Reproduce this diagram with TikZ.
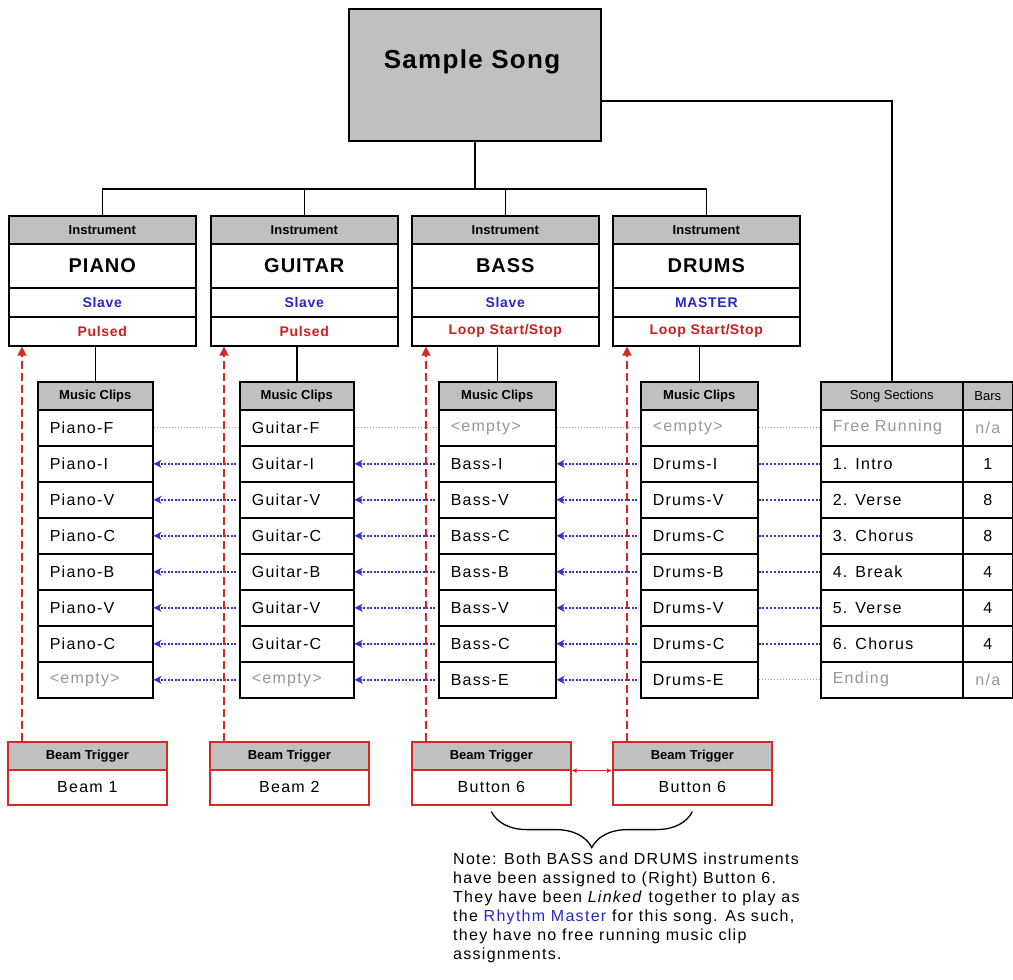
\documentclass[tikz,border=0pt]{standalone}
\usepackage{fontspec}
\setmainfont{Liberation Sans}
\newfontfamily\cellf[LetterSpace=8]{Liberation Sans}
\newfontfamily\notef[LetterSpace=8]{Liberation Sans}
\newfontfamily\boldsp[LetterSpace=5]{Liberation Sans}
\usetikzlibrary{arrows.meta,decorations.pathreplacing}
\definecolor{hdr}{RGB}{192,192,192}
\definecolor{bluet}{RGB}{40,40,200}
\definecolor{redt}{RGB}{205,30,30}
\definecolor{greyt}{RGB}{150,150,150}
\definecolor{linkblue}{RGB}{50,50,215}
\definecolor{trigred}{RGB}{215,40,40}
\begin{document}
\begin{tikzpicture}[x=1pt,y=-1pt,
  box/.style={draw, line width=1.6pt, inner sep=0pt, anchor=north west},
  hdrcell/.style={box, fill=hdr, minimum height=28, font=\fontsize{13}{15}\selectfont\bfseries},
  hdrreg/.style={box, fill=hdr, minimum height=28, font=\fontsize{13}{15}\selectfont},
  cell/.style={box, minimum height=36, inner xsep=12, text width=#1, align=left, font=\cellf\fontsize{16}{18}\selectfont},
  ccell/.style={box, minimum height=36, inner xsep=12, text width=#1, align=center, font=\cellf\fontsize{16}{18}\selectfont},
  conn/.style={line width=1.5pt, black},
  greydot/.style={draw=greyt, line width=1.1pt, dash pattern=on 1.5pt off 1.5pt},
  bluearr/.style={draw=linkblue, line width=1.6pt, dash pattern=on 2pt off 1.5pt, -{Stealth[length=8,width=8,fill=linkblue]}, shorten <=3pt},
  bluedot/.style={draw=linkblue, line width=2.2pt, dash pattern=on 2pt off 1.8pt},
  redarrow/.style={draw=trigred, line width=1.5pt, dash pattern=on 8pt off 4pt, -{Triangle[length=9,width=9,fill=trigred]}},
  trighdr/.style={box, draw=trigred, fill=hdr, minimum height=28, font=\fontsize{13}{15}\selectfont\bfseries},
  trigbody/.style={box, draw=trigred, minimum height=35, font=\cellf\fontsize{16}{18}\selectfont}
]
\useasboundingbox (0,0) rectangle (1013,980);

% Song
\node[box, fill=hdr, minimum width=252, minimum height=132] (song) at (348,8) {};
\node[font=\boldsp\fontsize{26}{28}\selectfont\bfseries] (songtxt) at (472,62) {Sample Song};

% Instruments
\foreach \x/\nm/\md/\mc/\tr [count=\i] in {8/PIANO/Slave/bluet/Pulsed, 210/GUITAR/Slave/bluet/Pulsed, 411/BASS/Slave/bluet/Loop Start\slash Stop, 612/DRUMS/MASTER/bluet/Loop Start\slash Stop} {
  \node[hdrcell, minimum width=187] (ih\i) at (\x,215) {Instrument};
  \node[box, minimum width=187, minimum height=44, font=\boldsp\fontsize{20}{22}\selectfont\bfseries] (in\i) at (\x,243) {\nm};
  \node[box, minimum width=187, minimum height=29, text=\mc, font=\boldsp\fontsize{14}{16}\selectfont\bfseries] (im\i) at (\x,287) {\md};
  \node[box, minimum width=187, minimum height=29, text=redt, font=\boldsp\fontsize{14}{16}\selectfont\bfseries] (it\i) at (\x,316) {\tr};
}

% Bus
\coordinate (bus) at (0,189);
\draw[conn] (ih1.north) |- (bus -| ih4.north) -- (ih4.north);
\draw[conn] (ih2.north) -- (ih2.north |- bus);
\draw[conn] (ih3.north) -- (ih3.north |- bus);
\draw[conn] (song.south) -- (song.south |- bus);

% Clip tables
\node[hdrcell, minimum width=115] (p0) at (37,381) {Music Clips};
\foreach \t [count=\i] in {Piano-F,Piano-I,Piano-V,Piano-C,Piano-B,Piano-V,Piano-C,{\color{greyt}\textless empty\textgreater}}
  \node[cell=91] (p\i) at (37,{409+36*(\i-1)}) {\t};
\node[hdrcell, minimum width=114] (g0) at (239,381) {Music Clips};
\foreach \t [count=\i] in {Guitar-F,Guitar-I,Guitar-V,Guitar-C,Guitar-B,Guitar-V,Guitar-C,{\color{greyt}\textless empty\textgreater}}
  \node[cell=90] (g\i) at (239,{409+36*(\i-1)}) {\t};
\node[hdrcell, minimum width=117] (b0) at (438,381) {Music Clips};
\foreach \t [count=\i] in {{\centering\color{greyt}\textless empty\textgreater},Bass-I,Bass-V,Bass-C,Bass-B,Bass-V,Bass-C,Bass-E}
  \node[cell=93] (b\i) at (438,{409+36*(\i-1)}) {\t};
\node[hdrcell, minimum width=117] (d0) at (640,381) {Music Clips};
\foreach \t [count=\i] in {{\centering\color{greyt}\textless empty\textgreater},Drums-I,Drums-V,Drums-C,Drums-B,Drums-V,Drums-C,Drums-E}
  \node[cell=93] (d\i) at (640,{409+36*(\i-1)}) {\t};

% Song sections
\node[hdrreg, minimum width=142] (s0) at (820,381) {Song Sections};
\node[hdrreg, minimum width=50] (n0) at (962,381) {Bars};
\foreach \t [count=\i] in {{\color{greyt}Free Running},1. Intro,2. Verse,3. Chorus,4. Break,5. Verse,6. Chorus,{\color{greyt}Ending}}
  \node[cell=118] (s\i) at (820,{409+36*(\i-1)}) {\t};
\foreach \t [count=\i] in {{\color{greyt}n/a},1,8,8,4,4,4,{\color{greyt}n/a}}
  \node[ccell=26] (n\i) at (962,{409+36*(\i-1)}) {\t};

% Drops instrument -> clips
\draw[conn] (p0.north) -- (p0.north |- it1.south);
\draw[conn] (g0.north) -- (g0.north |- it2.south);
\draw[conn] (b0.north) -- (b0.north |- it3.south);
\draw[conn] (d0.north) -- (d0.north |- it4.south);
\draw[conn] ([yshift=-26pt]song.east) -| (s0.north);

% Row connectors
\foreach \lft/\rgt in {p/g,g/b,b/d} {
  \draw[greydot] (\lft1.east) -- (\rgt1.west);
  \foreach \i in {2,...,8} \draw[bluearr] (\rgt\i.west) -- (\lft\i.east);
}
\draw[greydot] (d1.east) -- (s1.west);
\foreach \i in {2,...,7} \draw[bluedot] (d\i.east) -- (s\i.west);
\draw[greydot] (d8.east) -- (s8.west);

% Triggers
\foreach \x/\t [count=\i] in {7/Beam 1,209/Beam 2,411/Button 6,612/Button 6} {
  \node[trighdr, minimum width=159] (bh\i) at (\x,741) {Beam Trigger};
  \node[trigbody, minimum width=159] (bb\i) at (\x,769) {\t};
  \coordinate (rt\i) at ([xshift=15pt]bh\i.north west);
  \draw[redarrow] (rt\i) -- (rt\i |- it\i.south);
}
\draw[draw=trigred, line width=1.5pt, {Latex[length=5,width=5]}-{Latex[length=5,width=5]}] (bh3.south east) -- (bh4.south west);

% Brace
\draw[line width=1.3pt, decorate, decoration={brace, amplitude=36pt, mirror, aspect=0.5}] ([yshift=-6pt]bb3.south) -- ([yshift=-6pt]bb4.south);

% Note
\node[anchor=north west, align=left, inner sep=0pt, font=\notef\fontsize{16}{19}\selectfont] (note) at (453,853)
{Note: Both BASS and DRUMS instruments\\
have been assigned to (Right) Button 6.\\
They have been \textit{Linked} together to play as\\
the {\color{bluet}Rhythm Master} for this song. As such,\\
they have no free running music clip\\
assignments.};
\end{tikzpicture}
\end{document}
